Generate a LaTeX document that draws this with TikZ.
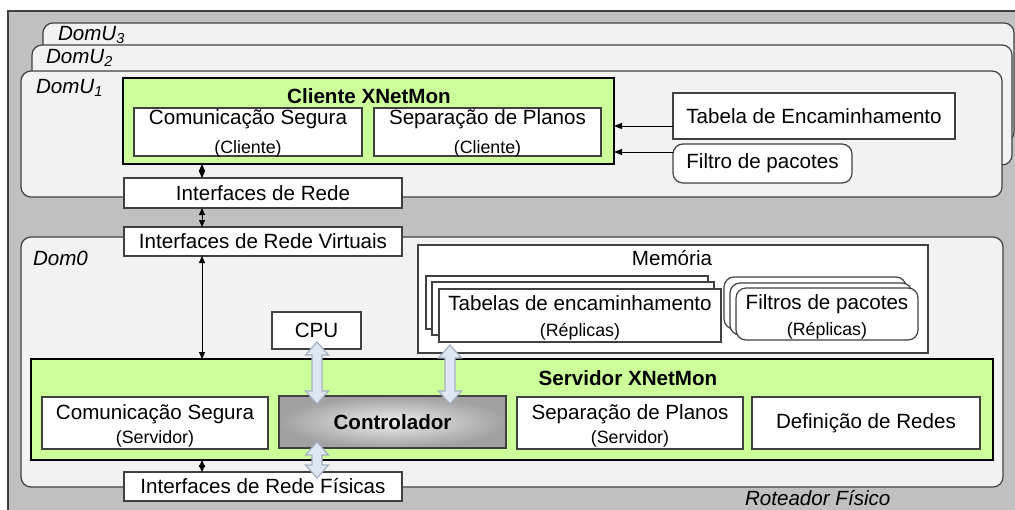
\documentclass[tikz,border=0pt]{standalone}
\usepackage{fontspec}
\setmainfont{Liberation Sans}
\usetikzlibrary{arrows.meta}
\definecolor{bgray}{HTML}{C0C0C0}
\definecolor{dfill}{HTML}{F2F2F2}
\definecolor{dline}{HTML}{404040}
\definecolor{gfill}{HTML}{CCFF99}
\definecolor{afill}{HTML}{DDE6F2}
\definecolor{aline}{HTML}{A3AFC2}
\newcommand\mainf{\fontsize{10.3}{12.4}\selectfont}
\newcommand\smallf{\fontsize{8.9}{10.7}\selectfont}
\newcommand\bxx[7]{\node[#1,anchor=north west,minimum width={(#5-#3)*0.5pt},minimum height={(#6-#4)*0.5pt}] (#2) at (#3,#4) {#7};}
\newcommand\bxt[8]{\node[#1,anchor=north west,minimum width={(#5-#3)*0.5pt},minimum height={(#6-#4)*0.5pt}] (#2) at (#3,#4) {};
  \node (#2-t) at ([yshift=#8]#2.center) {#7};}
\newcommand\barr[3]{\draw[blockarrow] (#1,#2) -- ++(11.5,13) -- ++(-6.5,0) -- (#1+5,#3-13) -- ++(6.5,0) -- (#1,#3) -- ++(-11.5,-13) -- ++(6.5,0) -- (#1-5,#2+13) -- ++(-6.5,0) -- cycle;}
\begin{document}
\begin{tikzpicture}[x=0.5pt,y=-0.5pt,
  every node/.style={inner sep=0pt,outer sep=0pt,font=\mainf,align=center},
  router/.style={draw=dline,fill=bgray,line width=0.6pt},
  dom/.style={draw=dline,fill=dfill,rounded corners=5pt,line width=0.6pt},
  wbox/.style={draw=dline,fill=white,line width=0.6pt},
  rbox/.style={draw=dline,fill=white,line width=0.6pt,rounded corners=5pt},
  gbox/.style={draw=black,fill=gfill,line width=1pt},
  ctrlbox/.style={draw=dline,inner color=white!93!black,outer color=black!37,line width=0.8pt},
  lbl/.style={anchor=base west,font=\mainf\itshape},
  ttl/.style={anchor=base,font=\mainf\bfseries},
  tarrow/.style={line width=0.5pt,{Triangle[length=3.5pt,width=3pt]}-{Triangle[length=3.5pt,width=3pt]}},
  sarrow/.style={line width=0.5pt,-{Triangle[length=4pt,width=3pt]}},
  blockarrow/.style={draw=aline,fill=afill,line width=0.6pt,line join=miter}]
\useasboundingbox (0,0) rectangle (1015,509);
\clip (0,0) rectangle (1015,509);
\fill[white] (0,0) rectangle (1015,509);
% physical router
\bxx{router}{router}{8}{11}{1040}{530}{}
% domains
\bxx{dom}{domu3}{43}{23}{1014}{142}{}
\bxx{dom}{domu2}{32}{45}{1012}{165}{}
\bxx{dom}{domu1}{21}{71}{1002}{197}{}
\bxx{dom}{dom0}{21}{237}{1003}{487}{}
\node[lbl] (l3) at (58,40) {DomU\textsubscript{3}};
\node[lbl] (l2) at (46,63) {DomU\textsubscript{2}};
\node[lbl] (l1) at (36,93) {DomU\textsubscript{1}};
\node[lbl] (l0) at (33,265) {Dom0};
\node[lbl] (lr) at (745,505) {Roteador Físico};
% client
\bxx{gbox}{client}{123}{78}{614}{164}{}
\node[ttl] (clientt) at (369,103) {Cliente XNetMon};
\bxt{wbox}{cs1}{134}{108}{362}{156}{Comunicação Segura\\[2.1pt]{\smallf (Cliente)}}{-0.9pt}
\bxt{wbox}{sp1}{374}{108}{601}{156}{Separação de Planos\\[2.1pt]{\smallf (Cliente)}}{-0.9pt}
\bxx{wbox}{tab}{673}{93}{955}{139}{Tabela de Encaminhamento}
\bxx{rbox}{fil}{673}{144}{852}{183}{Filtro de pacotes}
\bxx{wbox}{iface}{124}{178}{402}{208}{Interfaces de Rede}
\bxx{wbox}{ifv}{124}{227}{402}{256}{Interfaces de Rede Virtuais}
% memory
\bxx{wbox}{mem}{418}{245}{928}{353}{}
\node[anchor=base] (memt) at (672,265) {Memória};
\bxx{wbox}{tb3}{426}{276}{708}{329}{}
\bxx{wbox}{tb2}{432}{282}{714}{335}{}
\bxt{wbox}{tb1}{439}{289}{721}{342}{Tabelas de encaminhamento\\[0.6pt]{\smallf (Réplicas)}}{-1pt}
\bxx{rbox}{fb3}{724}{277}{906}{329}{}
\bxx{rbox}{fb2}{730}{283}{912}{335}{}
\bxt{rbox}{fb1}{736}{288}{918}{340}{Filtros de pacotes\\[0.6pt]{\smallf (Réplicas)}}{-1.3pt}
\bxx{wbox}{cpu}{272}{312}{361}{349}{CPU}
% server
\bxx{gbox}{serv}{31}{359}{993}{460}{}
\node[ttl] (servt) at (628,385) {Servidor XNetMon};
\bxt{wbox}{cs2}{42}{397}{268}{449}{Comunicação Segura\\[-0.4pt]{\smallf (Servidor)}}{-1.2pt}
\bxx{ctrlbox}{ctrl}{279}{396}{506}{448}{\textbf{Controlador}}
\bxt{wbox}{sp2}{517}{397}{743}{449}{Separação de Planos\\[-0.4pt]{\smallf (Servidor)}}{-1.2pt}
\bxx{wbox}{defr}{752}{397}{980}{449}{Definição de Redes}
\bxx{wbox}{ifp}{124}{472}{402}{501}{Interfaces de Rede Físicas}
% thin connectors
\coordinate (ax) at (202,0);
\coordinate (ay1) at (0,126);
\coordinate (ay2) at (0,152);
\draw[tarrow] (client.south -| ax) -- (iface.north -| ax);
\draw[tarrow] (iface.south -| ax) -- (ifv.north -| ax);
\draw[tarrow] (ifv.south -| ax) -- (serv.north -| ax);
\draw[tarrow] (serv.south -| ax) -- (ifp.north -| ax);
\draw[sarrow] (tab.west |- ay1) -- (client.east |- ay1);
\draw[sarrow] (fil.west |- ay2) -- (client.east |- ay2);
% block arrows
\barr{317}{342}{404}
\barr{450}{345}{404}
\barr{317}{442}{478}
\end{tikzpicture}
\end{document}
